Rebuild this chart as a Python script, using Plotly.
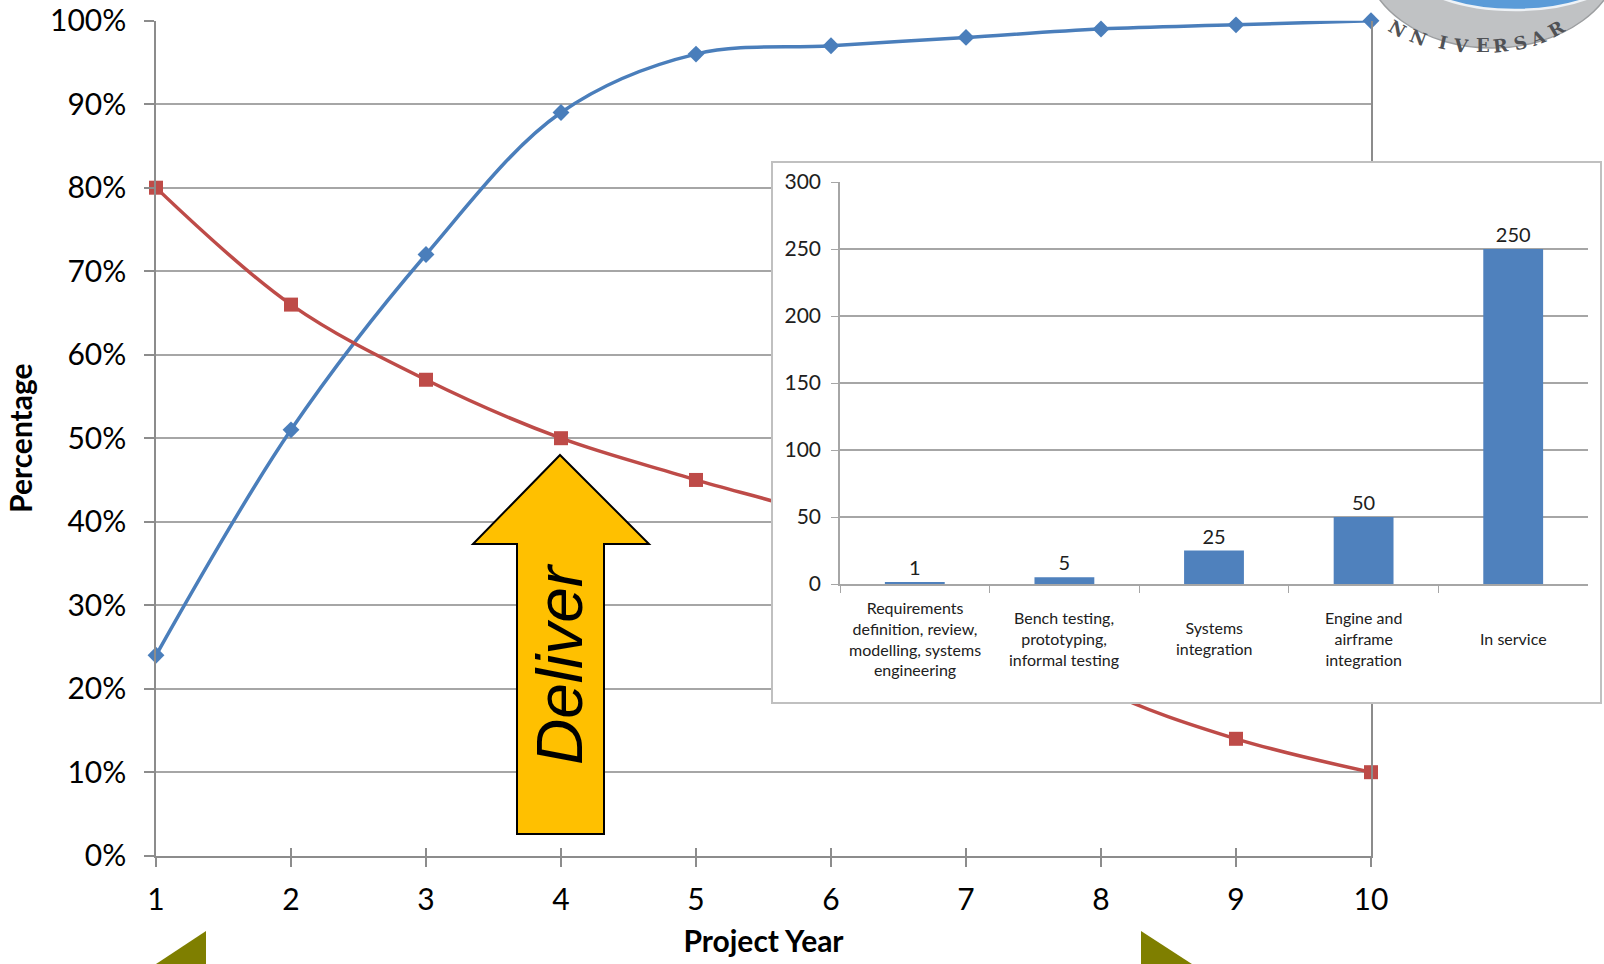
import math
import plotly.graph_objects as go

# ---------------- data ----------------
years = [1, 2, 3, 4, 5, 6, 7, 8, 9, 10]
blue_pct = [0.24, 0.51, 0.72, 0.89, 0.96, 0.97, 0.98, 0.99, 0.995, 1.00]
red_pct = [0.80, 0.66, 0.57, 0.50, 0.45, 0.40, 0.30, 0.20, 0.14, 0.10]
pct_ticks = [0.0, 0.1, 0.2, 0.3, 0.4, 0.5, 0.6, 0.7, 0.8, 0.9, 1.0]

inset_categories = [
    "Requirements definition, review, modelling, systems engineering",
    "Bench testing, prototyping, informal testing",
    "Systems integration",
    "Engine and airframe integration",
    "In service",
]
inset_labels = [
    "Requirements<br>definition, review,<br>modelling, systems<br>engineering",
    "Bench testing,<br>prototyping,<br>informal testing",
    "Systems<br>integration",
    "Engine and<br>airframe<br>integration",
    "In service",
]
inset_values = [1, 5, 25, 50, 250]
inset_ticks = [0, 50, 100, 150, 200, 250, 300]

W, H = 1604, 964


def px(x):
    return x / W


def py(y):
    return 1 - y / H


FONT = "Lato"
GRID = "#a6a6a6"
AXIS = "#8c8c8c"
BLUE = "#4a7ebb"
RED = "#be4b48"
TXT = "#202020"

fig = go.Figure()

# main chart
fig.add_trace(go.Scatter(
    x=years, y=blue_pct, mode="lines+markers", line=dict(color=BLUE, width=3.5, shape="spline"),
    marker=dict(symbol="diamond", size=13, color=BLUE), cliponaxis=False, hoverinfo="skip",
    xaxis="x", yaxis="y"))
fig.add_trace(go.Scatter(
    x=years, y=red_pct, mode="lines+markers", line=dict(color=RED, width=3.5, shape="spline"),
    marker=dict(symbol="square", size=14, color=RED), cliponaxis=False, hoverinfo="skip",
    xaxis="x", yaxis="y"))
# overlay axis for the upper half of the cross ticks
fig.add_trace(go.Scatter(x=[], y=[], xaxis="x4", yaxis="y", hoverinfo="skip"))
# inset box (background subplot)
fig.add_trace(go.Scatter(x=[], y=[], xaxis="x2", yaxis="y2", hoverinfo="skip"))
# inset bars
fig.add_trace(go.Bar(
    x=inset_categories, y=inset_values, marker=dict(color="#4f81bd", line=dict(width=0)),
    text=[str(v) for v in inset_values], textposition="outside", cliponaxis=False,
    textfont=dict(family=FONT, size=20, color=TXT), hoverinfo="skip",
    xaxis="x3", yaxis="y3"))

main_xd = [px(156), px(1371)]
main_yd = [py(855.7), py(20.7)]

shapes = []
# Deliver arrow
arrow_pts = [(560, 455), (649, 544), (604, 544), (604, 834), (517, 834), (517, 544), (473, 544)]
path = "M " + " L ".join(f"{px(a):.5f},{py(b):.5f}" for a, b in arrow_pts) + " Z"
shapes.append(dict(type="path", xref="paper", yref="paper", path=path,
                   fillcolor="#ffc000", line=dict(color="#000000", width=2), layer="above"))
# olive triangles at bottom
for tri in ([(153, 966), (206, 931), (206, 966)], [(1141, 931), (1141, 966), (1195, 966)]):
    p = "M " + " L ".join(f"{px(a):.5f},{py(b):.5f}" for a, b in tri) + " Z"
    shapes.append(dict(type="path", xref="paper", yref="paper", path=p,
                       fillcolor="#7f7f00", line=dict(width=0), layer="above"))
# logo (partial badge)
shapes.append(dict(type="circle", xref="paper", yref="paper",
                   x0=px(1364), x1=px(1620), y0=py(48), y1=py(-138),
                   fillcolor="#c0c2c4", line=dict(color="#9c9ea0", width=1.5), layer="above"))
shapes.append(dict(type="circle", xref="paper", yref="paper",
                   x0=px(1397), x1=px(1633), y0=py(10), y1=py(-100),
                   fillcolor="#5a9bd8", line=dict(color="#eef2f6", width=2.5), layer="above"))

annotations = []
# logo letters
word = "NNIVERSAR"
cx, cy, rx, ry = 1492, -45, 120, 78
for i, ch in enumerate(word):
    xx = 1412 + 20 * i
    r = (xx - cx) / rx
    t = math.acos(r)
    yy = cy + ry * math.sin(t)
    ang = math.degrees(math.atan2(-ry * math.cos(t), rx * math.sin(t)))
    annotations.append(dict(xref="paper", yref="paper", x=px(xx), y=py(yy), text="<b>" + ch + "</b>",
                            showarrow=False, textangle=ang,
                            font=dict(family="DejaVu Serif", size=18, color="#505256")))

# Deliver text
annotations.append(dict(xref="paper", yref="paper", x=px(560), y=py(664), text="Deliver",
                        showarrow=False, textangle=-90, xanchor="center", yanchor="middle",
                        font=dict(family="Liberation Sans", size=64, color="#000000", style="italic")))
# inset category labels (vertically centred like Excel)
for cat, lab in zip(inset_categories, inset_labels):
    annotations.append(dict(xref="x3", yref="paper", x=cat, y=py(638), text=lab,
                            showarrow=False, xanchor="center", yanchor="middle", align="center",
                            font=dict(family=FONT, size=16, color=TXT)))

fig.update_layout(
    width=W, height=H,
    margin=dict(l=0, r=0, t=0, b=0),
    paper_bgcolor="white", plot_bgcolor="white",
    showlegend=False, bargap=0.6,
    font=dict(family=FONT, color="#000000"),
    xaxis=dict(domain=main_xd, anchor="y", range=[1, 10], tickvals=years,
               ticks="outside", ticklen=10, tickcolor=AXIS, tickwidth=1.5,
               showline=True, linecolor=AXIS, linewidth=1.5, showgrid=False, zeroline=False,
               tickfont=dict(family=FONT, size=30, color="#000000"), ticklabelstandoff=7,
               title=dict(text="<b>Project Year</b>", font=dict(family=FONT, size=30, color="#000000"),
                          standoff=16),
               automargin=False),
    xaxis4=dict(overlaying="x", anchor="y", side="bottom", range=[1, 10], tickvals=years,
                ticks="inside", ticklen=8, tickcolor=AXIS, tickwidth=1.5,
                showticklabels=False, showgrid=False, showline=False, zeroline=False,
                automargin=False),
    yaxis=dict(domain=main_yd, anchor="x", range=[0, 1], tickvals=pct_ticks, tickformat=".0%",
               ticks="outside", ticklen=10, tickcolor=AXIS, tickwidth=1.5,
               showline=True, mirror=True, linecolor=AXIS, linewidth=1.5,
               showgrid=True, gridcolor=GRID, gridwidth=1.5, zeroline=False,
               tickfont=dict(family=FONT, size=30, color="#000000"), ticklabelstandoff=12,
               title=dict(text="<b>Percentage</b>", font=dict(family=FONT, size=30, color="#000000"),
                          standoff=8),
               automargin=False),
    xaxis2=dict(domain=[px(773), px(1600)], anchor="y2", range=[0, 1], showline=True, mirror=True,
                linecolor="#c0c0c0", linewidth=1.5, showgrid=False, zeroline=False,
                showticklabels=False, ticks="", automargin=False),
    yaxis2=dict(domain=[py(702), py(163)], anchor="x2", range=[0, 1], showline=True, mirror=True,
                linecolor="#c0c0c0", linewidth=1.5, showgrid=False, zeroline=False,
                showticklabels=False, ticks="", automargin=False),
    xaxis3=dict(domain=[px(840), px(1588)], anchor="y3", type="category",
                showticklabels=False, ticks="outside", tickson="boundaries", ticklen=7,
                tickcolor=GRID, showline=True, linecolor=GRID, linewidth=1.5,
                showgrid=False, zeroline=False, automargin=False),
    yaxis3=dict(domain=[py(584), py(182)], anchor="x3", range=[0, 300], tickvals=inset_ticks,
                ticks="outside", ticklen=7, tickcolor=GRID, showline=True, linecolor=GRID, linewidth=1.5,
                showgrid=True, gridcolor=GRID, gridwidth=1.5, zeroline=False,
                tickfont=dict(family=FONT, size=21, color=TXT), ticklabelstandoff=6,
                automargin=False),
    shapes=shapes,
    annotations=annotations,
)

fig.write_html("out.html", config={"displayModeBar": False},
               post_script="document.body.style.margin='0';document.body.style.overflow='hidden';")
